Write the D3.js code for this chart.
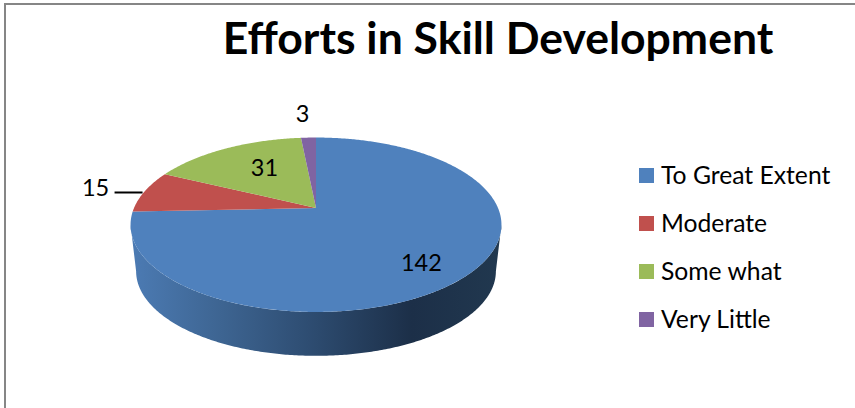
<!DOCTYPE html>
<html>
<head>
<meta charset="utf-8">
<script src="https://cdn.jsdelivr.net/npm/d3@7"></script>
<style>
  html, body { margin: 0; padding: 0; background: #fff; }
  svg { display: block; }
  text { font-family: Lato, "Open Sans", sans-serif; fill: #000; }
</style>
</head>
<body>
<div id="chart"></div>
<script>
const title = 'Efforts in Skill Development';
const categories = ['To Great Extent', 'Moderate', 'Some what', 'Very Little'];
const values = [142, 15, 31, 3];
const colors = ['#4f81bd', '#c0504d', '#9bbb59', '#8064a2'];

const width = 855, height = 408;

//pie is a flat disc seen in perspective, apex sits above the ellipse centre
const apex = {x: 316, y: 208};
const a = 182, b = 84, k = 0.192;
const depth = 47, shrink = 0.97;

//angle clockwise from 12 o'clock, f = fraction of the radius
function project(angle, f = 1){
	const u = Math.sin(angle) * f;
	const v = -Math.cos(angle) * f;
	const w = 1 - k * v;
	return [apex.x + a * u / w, apex.y + b * v / w];
}

const svg = d3.select('#chart')
	.append('svg')
	.attr('width', width)
	.attr('height', height);

//frame, only top and left show in the picture
svg.append('path')
	.attr('d', `M5,${height}V4H${width}`)
	.attr('fill', 'none')
	.attr('stroke', '#868686')
	.attr('stroke-width', 2);

svg.append('text')
	.attr('x', 498)
	.attr('y', 54)
	.attr('text-anchor', 'middle')
	.attr('font-size', 44.5)
	.attr('font-weight', 700)
	.text(title);

const slices = d3.pie().sort(null)(values);
const line = d3.line();

function arcPoints(start, end, f = 1){
	const n = Math.max(2, Math.ceil(Math.abs(end - start) / 0.01));
	return d3.range(n + 1).map(i => project(start + (end - start) * i / n, f));
}

//side wall, from the right tangent round the front to the left tangent
const defs = svg.append('defs');
const grad = defs.append('linearGradient')
	.attr('id', 'side')
	.attr('gradientUnits', 'userSpaceOnUse')
	.attr('x1', 130).attr('x2', 501)
	.attr('y1', 0).attr('y2', 0);
[[0, '#4c7bb4'], [0.22, '#3f6795'], [0.48, '#2e4d72'], [0.76, '#1c2f48'], [1, '#21384f']]
	.forEach(s => grad.append('stop').attr('offset', s[0]).attr('stop-color', s[1]));

const t0 = Math.acos(-k), t1 = Math.PI * 2 - t0;
const rim = arcPoints(t0, t1);
const base = rim.map(p => [
	apex.x + (p[0] - apex.x) * shrink,
	apex.y + depth + (p[1] - apex.y) * shrink
]).reverse();

svg.append('path')
	.attr('d', line(rim.concat(base)) + 'Z')
	.attr('fill', 'url(#side)');

//top face
svg.selectAll('path.slice')
	.data(slices)
	.join('path')
	.attr('class', 'slice')
	.attr('d', d => line([[apex.x, apex.y]].concat(arcPoints(d.startAngle, d.endAngle))) + 'Z')
	.attr('fill', (d, i) => colors[i]);

//data labels: [radius fraction, nudge x, nudge y]
const labelPlace = [[0.7, 4, 10], [1, -49, -4], [0.7, 14, 3], [1, -6, -24]];
const mid = d => (d.startAngle + d.endAngle) / 2;

svg.selectAll('text.value')
	.data(slices)
	.join('text')
	.attr('class', 'value')
	.attr('x', (d, i) => project(mid(d), labelPlace[i][0])[0] + labelPlace[i][1])
	.attr('y', (d, i) => project(mid(d), labelPlace[i][0])[1] + labelPlace[i][2])
	.attr('dy', '0.35em')
	.attr('text-anchor', 'middle')
	.attr('font-size', 23.5)
	.text(d => d.value);

//leader line for Moderate
const lead = project(mid(slices[1]));
svg.append('line')
	.attr('x1', lead[0] - 30)
	.attr('x2', lead[0] - 2)
	.attr('y1', lead[1] + 1)
	.attr('y2', lead[1] + 1)
	.attr('stroke', '#000')
	.attr('stroke-width', 2);

//legend
const legendY = d3.scalePoint()
	.domain(categories)
	.range([175.5, 319.5]);

const legend = svg.selectAll('g.legend')
	.data(categories)
	.join('g')
	.attr('class', 'legend')
	.attr('transform', d => `translate(639,${legendY(d)})`);

legend.append('rect')
	.attr('y', -7.5)
	.attr('width', 15)
	.attr('height', 15)
	.attr('fill', (d, i) => colors[i]);

legend.append('text')
	.attr('x', 22)
	.attr('dy', '0.35em')
	.attr('font-size', 24.7)
	.text(d => d);
</script>
</body>
</html>
